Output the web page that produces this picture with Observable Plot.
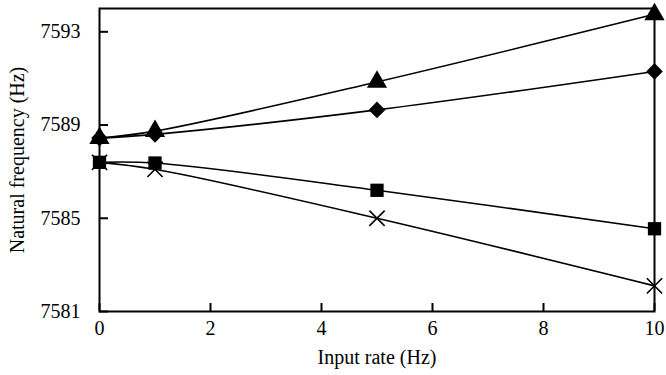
<!DOCTYPE html>
<html><head><meta charset="utf-8">
<script src="https://cdn.jsdelivr.net/npm/d3@7"></script>
<script src="https://cdn.jsdelivr.net/npm/@observablehq/plot@0.6"></script>
<style>
body{margin:0;background:#fff;}
svg, svg text{font-family:"Liberation Serif","Times New Roman",serif !important; font-size:20px !important; fill-opacity:1;}
</style>
</head><body>
<div id="chart"></div>
<script>
const inputRate = [0, 1, 5, 10];
const triangleSeries = [7588.44, 7588.74, 7590.85, 7593.75];
const diamondSeries = [7588.44, 7588.6, 7589.65, 7591.3];
const squareSeries = [7587.4, 7587.37, 7586.2, 7584.55];
const crossSeries = [7587.4, 7587.1, 7585.0, 7582.1];
const xTicks = [0, 2, 4, 6, 8, 10];
const yTicks = [7581, 7585, 7589, 7593];

const seriesDefs = [
  {name: "triangle", values: triangleSeries, symbol: "triangle"},
  {name: "diamond", values: diamondSeries, symbol: "diamond2"},
  {name: "square", values: squareSeries, symbol: "square"},
  {name: "times", values: crossSeries, symbol: "times"}
];
const rows = seriesDefs.flatMap(s => inputRate.map((x, i) => ({series: s.name, symbol: s.symbol, x, y: s.values[i]})));

const chart = Plot.plot({
  width: 666,
  height: 375,
  marginLeft: 99,
  marginRight: 12,
  marginTop: 8,
  marginBottom: 64,
  style: {color: "#000", background: "#fff"},
  x: {domain: [0, 10]},
  y: {domain: [7581, 7594]},
  symbol: {domain: ["triangle","diamond2","square","times"], range: ["triangle","diamond2","square","times"]},
  marks: [
    Plot.frame({stroke: "#000", strokeWidth: 2}),
    Plot.axisX({ticks: xTicks, tickSize: -8, tickPadding: 17, tickFormat: d => String(d), label: "Input rate (Hz)", labelAnchor: "center", labelArrow: "none", labelOffset: 52, strokeWidth: 2}),
    Plot.axisY({ticks: yTicks, tickSize: -9, tickPadding: 28, tickFormat: d => String(d), label: "Natural frequency (Hz)", labelAnchor: "center", labelArrow: "none", labelOffset: 90, strokeWidth: 2}),
    Plot.line(rows, {x: "x", y: "y", z: "series", stroke: "#000", strokeWidth: 1.6, curve: "catmull-rom"}),
    Plot.dot(rows.filter(d => d.symbol !== "times"), {x: "x", y: "y", symbol: "symbol", fill: "#000", stroke: "none", r: 7.5}),
    Plot.dot(rows.filter(d => d.symbol === "times"), {x: "x", y: "y", symbol: "symbol", fill: "none", stroke: "#000", strokeWidth: 1.6, r: 7})
  ]
});
document.getElementById("chart").appendChild(chart);
</script>
</body></html>
